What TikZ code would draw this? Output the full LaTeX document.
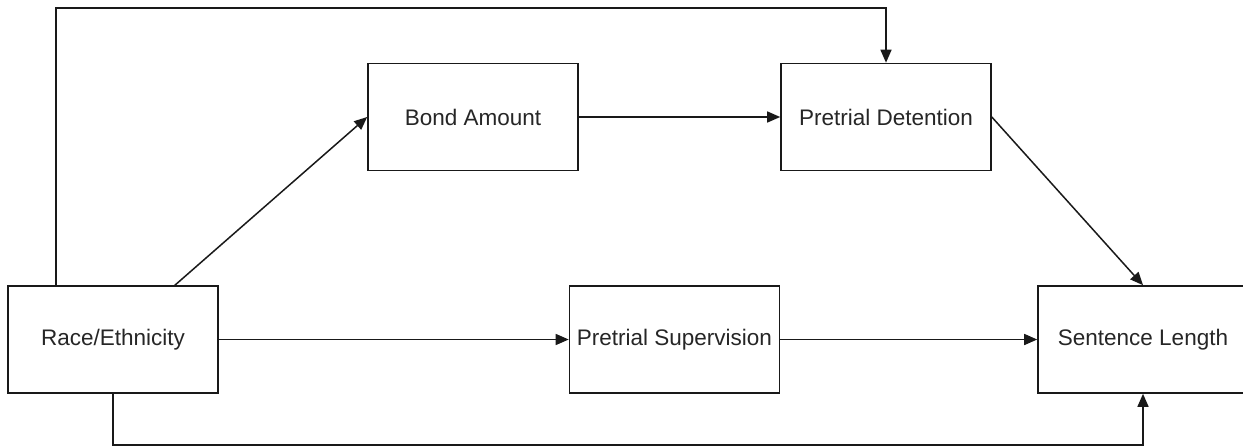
\documentclass[tikz,border=0pt]{standalone}
\usepackage{fontspec}
\setmainfont{Liberation Sans}
\usetikzlibrary{arrows.meta}
\begin{document}
\begin{tikzpicture}[x=1pt,y=-1pt,
  box/.style={draw=black!90,line width=1.6pt,minimum width=210pt,minimum height=107pt,inner sep=0pt,font=\fontsize{22.5}{26}\selectfont,text=black!85},
  conn/.style={draw=black!90,line width=1.5pt,-{Triangle[length=13pt,width=11pt]}}]
\useasboundingbox (0,0) rectangle (1243,447);
\begin{scope}
\clip (0,0) rectangle (1243,447);
\node[box] (race) at (113,339.5) {Race/Ethnicity};
\node[box] (bond) at (473,117) {Bond Amount};
\node[box] (det) at (886,117) {Pretrial Detention};
\node[box] (sup) at (674.5,339.5) {Pretrial Supervision};
\node[box] (sent) at (1143,339.5) {Sentence Length};
\end{scope}
\coordinate (t1) at (56,8);
\coordinate (t2) at (886,8);
\coordinate (b1) at (113,445);
\coordinate (b2) at (1143,445);
\draw[conn] (race.north -| t1) -- (t1) -- (t2) -- (det.north);
\draw[conn] (race.south -| b1) -- (b1) -- (b2) -- (sent.south);
\draw[conn] (174,286) coordinate (r1) -- (bond.west);
\draw[conn] (bond.east) -- (det.west);
\draw[conn] (det.east) -- (sent.north);
\draw[conn] (race.east) -- (sup.west);
\draw[conn] (sup.east) -- (sent.west);
\end{tikzpicture}
\end{document}
